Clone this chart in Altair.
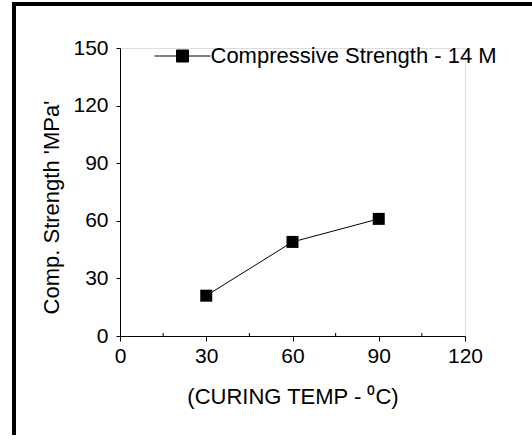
import altair as alt
import pandas as pd

temps = [30, 60, 90]
strength = [21, 49, 61]
series_name = "Compressive Strength - 14 M"
x_minor = [15, 45, 75, 105]

df = pd.DataFrame({"temp": temps, "strength": strength, "series": [series_name] * len(temps)})

W, H = 345, 288
FONT = "Liberation Sans"

x_enc = alt.X(
    "temp:Q",
    scale=alt.Scale(domain=[0, 120], nice=False),
    axis=alt.Axis(
        values=[0, 30, 60, 90, 120],
        title="(CURING TEMP - \u2070C)",
        titleFontSize=22, titleFont=FONT, titleFontWeight="normal", titleColor="black",
        titleX=172.5, titleY=67, titleBaseline="alphabetic", titleAlign="center",
        labelFontSize=21, labelFont=FONT, labelColor="black", labelPadding=4,
        tickSize=5, tickColor="black", domainColor="black", grid=False,
        labelFlush=False, labelOverlap=False,
    ),
)
y_enc = alt.Y(
    "strength:Q",
    scale=alt.Scale(domain=[0, 150], nice=False),
    axis=alt.Axis(
        values=[0, 15, 30, 45, 60, 75, 90, 105, 120, 135, 150],
        labelExpr="datum.value % 30 === 0 ? datum.label : ''",
        tickSize={"condition": {"test": "datum.value % 30 === 0", "value": 4}, "value": 3},
        title="Comp. Strength 'MPa'",
        titleFontSize=22, titleFont=FONT, titleFontWeight="normal", titleColor="black",
        titleX=-62, titleY=159, titleAngle=-90, titleBaseline="alphabetic", titleAlign="center",
        labelFontSize=21, labelFont=FONT, labelColor="black", labelPadding=8,
        tickColor="black", domainColor="black", grid=False,
        labelFlush=False, labelOverlap=False,
    ),
)

base = alt.Chart(df)

line = base.mark_line(color="black", strokeWidth=1).encode(x=x_enc, y=y_enc)

points = base.mark_point(shape="square", filled=True, size=144, opacity=1).encode(
    x="temp:Q",
    y="strength:Q",
    color=alt.Color(
        "series:N",
        scale=alt.Scale(range=["black"]),
        legend=alt.Legend(
            orient="none", legendX=51.5, legendY=-3, title=None, padding=0,
            symbolType="M-4.67,0H4.67M-1,-1H1V1H-1Z",
            symbolSize=144, symbolFillColor="black", symbolStrokeColor="black",
            symbolStrokeWidth=1, symbolOpacity=1,
            labelFontSize=22, labelFont=FONT, labelColor="black", labelOffset=17,
            labelLimit=400,
        ),
    ),
)

minor = alt.Chart(pd.DataFrame({"m": x_minor})).mark_rule(color="black", strokeWidth=1).encode(
    x="m:Q", y=alt.value(H), y2=alt.value(H - 3)
)

frame = alt.Chart(pd.DataFrame({"a": [0]})).mark_rect(
    fill=None, stroke="black", strokeWidth=4
).encode(
    x=alt.value(-106), x2=alt.value(700), y=alt.value(-44), y2=alt.value(389)
)

chart = alt.layer(frame, minor, line, points).properties(
    width=W, height=H,
    autosize=alt.AutoSizeParams(type="none"),
    padding={"left": 120, "top": 48, "right": 67, "bottom": 99},
).configure_view(stroke=None).configure(background="white")

chart.save("out.html", embed_options={"renderer": "svg", "actions": False})
